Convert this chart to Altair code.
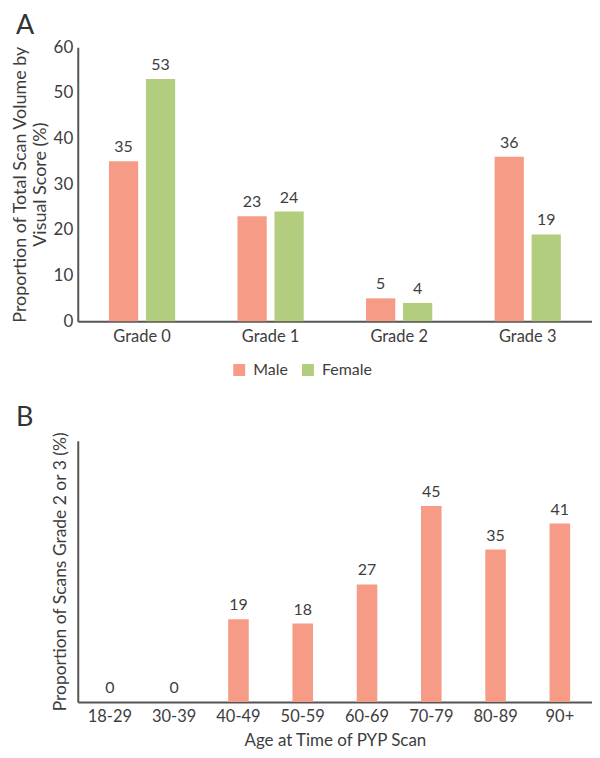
import altair as alt
import pandas as pd

grades = ["Grade 0", "Grade 1", "Grade 2", "Grade 3"]
male_vals = [35, 23, 5, 36]
female_vals = [53, 24, 4, 19]

age_groups = ["18-29", "30-39", "40-49", "50-59", "60-69", "70-79", "80-89", "90+"]
age_vals = [0, 0, 19, 18, 27, 45, 35, 41]

MALE = "#F69C86"
FEMALE = "#B1CD7D"
TXT = "#3d3d3d"
AX = "#555555"
FONT = "Lato"
XLBL = 16.5
YLBL = 17
VAL = 16
W = 516

rows = []
for g, m, f in zip(grades, male_vals, female_vals):
    rows.append({"grade": g, "sex": "Male", "value": m})
    rows.append({"grade": g, "sex": "Female", "value": f})
df_a = pd.DataFrame(rows)
df_b = pd.DataFrame({"age": age_groups, "value": age_vals})

xa = alt.X("grade:N", sort=grades, title=None,
           scale=alt.Scale(paddingInner=0.485, paddingOuter=0.2425),
           axis=alt.Axis(labelAngle=0, ticks=False, labelPadding=7, labelFontSize=XLBL,
                         labelColor=TXT, domainColor=AX, domainWidth=2, labelFont=FONT))
xoff = alt.XOffset("sex:N", sort=["Male", "Female"],
                   scale=alt.Scale(paddingInner=0.21, paddingOuter=0))
ya = alt.Y("value:Q", scale=alt.Scale(domain=[0, 60]),
           title=["Proportion of Total Scan Volume by", "Visual Score (%)"],
           axis=alt.Axis(values=[0, 10, 20, 30, 40, 50, 60], ticks=False, grid=False,
                         labelPadding=5, labelFontSize=YLBL, labelColor=TXT, labelFont=FONT,
                         domainColor=AX, domainWidth=2, titleFontSize=18,
                         titleFontWeight="normal", titleColor=TXT, titleFont=FONT,
                         titlePadding=4, titleLineHeight=20))
color = alt.Color("sex:N", sort=["Male", "Female"],
                  scale=alt.Scale(domain=["Male", "Female"], range=[MALE, FEMALE]),
                  legend=alt.Legend(title=None, orient="none", direction="horizontal",
                                    legendX=154, legendY=316, symbolType="square",
                                    symbolSize=144, symbolStrokeWidth=0, labelFontSize=16,
                                    labelColor=TXT, labelFont=FONT, columnPadding=12,
                                    labelOffset=6, padding=0))

bars_a = alt.Chart(df_a).mark_bar().encode(x=xa, xOffset=xoff, y=ya, color=color)
text_a = alt.Chart(df_a).mark_text(baseline="bottom", dy=-6, fontSize=VAL, color=TXT, font=FONT).encode(
    x=alt.X("grade:N", sort=grades), xOffset=xoff, y="value:Q", text="value:Q")
letter_a = alt.Chart(pd.DataFrame({"t": ["A"]})).mark_text(
    align="left", baseline="alphabetic", fontSize=27, color="#333333", font=FONT).encode(
    text="t:N", x=alt.value(-62), y=alt.value(-13))

chart_a = alt.layer(bars_a, text_a, letter_a).properties(width=W, height=275)

xb = alt.X("age:N", sort=age_groups, title="Age at Time of PYP Scan",
           scale=alt.Scale(paddingInner=0.68, paddingOuter=0.34),
           axis=alt.Axis(labelAngle=0, ticks=False, labelPadding=7, labelFontSize=XLBL,
                         labelColor=TXT, labelFont=FONT, domainColor=AX, domainWidth=2,
                         titleFontSize=17, titleFontWeight="normal", titleColor=TXT,
                         titleFont=FONT, titlePadding=7))
yb = alt.Y("value:Q", scale=alt.Scale(domain=[0, 58]),
           title="Proportion of Scans Grade 2 or 3 (%)",
           axis=alt.Axis(labels=False, ticks=False, grid=False, domainColor=AX, domainWidth=2,
                         titleFontSize=17.5, titleFontWeight="normal", titleColor=TXT,
                         titleFont=FONT, titlePadding=8))

bars_b = alt.Chart(df_b).mark_bar(color=MALE).encode(x=xb, y=yb)
text_b = alt.Chart(df_b).mark_text(baseline="bottom", dy=-6, fontSize=VAL, color=TXT, font=FONT).encode(
    x=alt.X("age:N", sort=age_groups), y="value:Q", text="value:Q")
letter_b = alt.Chart(pd.DataFrame({"t": ["B"]})).mark_text(
    align="left", baseline="alphabetic", fontSize=27, color="#333333", font=FONT).encode(
    text="t:N", x=alt.value(-62), y=alt.value(-15))

chart_b = alt.layer(bars_b, text_b, letter_b).properties(width=W, height=262)

chart = alt.vconcat(chart_a, chart_b, spacing=120, bounds="flush").configure_view(
    stroke=None).properties(padding={"left": 3, "top": 3, "right": 0, "bottom": 0})

chart.save("out.html", embed_options={"renderer": "svg", "actions": False})
